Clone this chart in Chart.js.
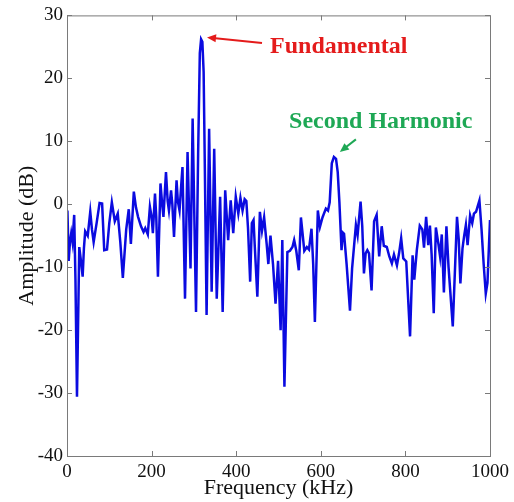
<!DOCTYPE html>
<html>
<head>
<meta charset="utf-8">
<script src="https://cdn.jsdelivr.net/npm/chart.js@4.4.1/dist/chart.umd.min.js"></script>
<style>
html, body { margin: 0; padding: 0; background: #fff; }
</style>
</head>
<body>
<canvas id="grafico" width="514" height="502"></canvas>
<script>
// spectrum
const freqKHz = [
    1, 4, 7, 10, 13, 17, 20, 23.6, 26, 29, 33, 37, 40, 43, 49, 55, 59, 63, 70, 77,
    83, 88, 94.6, 100, 106, 113, 120, 126, 132, 140, 146, 151, 158, 163, 168, 175, 181, 185, 191, 196,
    200, 203, 208, 211, 215, 221, 225, 228, 234, 238, 241, 246, 249, 253, 259, 262, 266, 270, 273, 279,
    285, 292, 297, 305, 310, 314, 317, 320, 323, 326, 330, 336, 342, 348, 354, 362, 368, 374, 381, 387,
    393, 399, 405, 410, 415, 420, 424, 428, 433, 437, 441, 444, 450, 456, 461, 466, 472, 476, 481, 487,
    493, 499, 505, 509, 514, 521, 527, 533, 537, 542, 548, 553, 557, 561, 567, 572, 578, 582, 586, 593,
    598, 604, 612, 617, 621, 626, 631, 636, 640, 644, 649, 652, 655, 661, 669, 674, 683, 687, 694, 698,
    702, 706, 710, 714, 720, 726, 732, 738, 744, 749, 756, 762, 768, 773, 780, 785, 790, 795, 802, 811,
    817, 821, 827, 834, 840, 844, 849, 854, 858, 862, 867, 872, 878, 882, 886, 891, 897, 902, 912, 918,
    922, 926, 930, 935, 939, 943, 947, 953, 958, 962, 967, 975, 980, 985, 990, 994, 1000
];
const ampDB = [
    -1, -9, -6, -4.6, -6, -1.7, -12, -30.6, -20, -6.8, -9, -11.5, -7, -4.3, -5, -1.2, -4, -6, -3, 0.2,
    0.1, -7.3, -7.2, -3, 0.3, -2.7, -1.5, -6, -11.7, -4, -0.8, -6.3, 2, -0.5, -2, -3.5, -4.4, -3.8, -4.8, -0.4,
    -2, -4.6, 1.7, -2, -11.5, 3.3, 0, -2, 5.1, 0.5, -1, 2.2, 0, -5.2, 3.8, 0.5, -1, 3, 5.9, -15,
    8.3, -10.2, 13.6, -17.1, 8, 24, 26.2, 25.8, 21, 5, -17.6, 12, -13.9, 8.8, -15, 1.2, -17.1, 2.2, -5.7, 0.6,
    -4.6, 1.2, -1.5, 1, -1, 0.8, 0.5, -3.9, -12.3, -3, -2.5, -6.8, -14.7, -1.2, -4.2, -2.1, -6.3, -9.5, -5, -9.5,
    -15.8, -9, -20, -5.7, -29, -7.6, -7.4, -6.8, -5.7, -7.4, -10.5, -2.1, -4.7, -7.4, -6.8, -7.2, -3.9, -9.5, -18.7, -1,
    -3.6, -2.1, -0.7, -1, 0.3, 6.5, 7.5, 7.2, 5.1, 0.3, -7.3, -4.5, -4.7, -9.5, -16.9, -10.2, -3.3, -4.9, 0.4, -3.5,
    -11, -7.8, -7.3, -7.8, -13.7, -2.7, -1.7, -8.3, -3.5, -6.6, -6.8, -8.3, -9.4, -8, -9.7, -7.8, -5.4, -8.6, -9.1, -21,
    -8.1, -12, -7.3, -3.4, -4, -6.9, -2, -6.5, -3.4, -8, -17.3, -3.7, -6.3, -8.3, -4.8, -14, -3.5, -10, -19.4, -9,
    -2, -5.5, -12.6, -7, -5, -3.3, -6.5, -1.8, -3, -1.5, -1.2, 0.6, -4, -9.5, -14.2, -12.5, -2.5
];
const xTicks = [0, 200, 400, 600, 800, 1000];
const yTicks = [-40, -30, -20, -10, 0, 10, 20, 30];

const serif = '"Liberation Serif", "DejaVu Serif", serif';

// labels with arrows, placed in data units
const notes = [
    { text: 'Fundamental', color: '#e41b1b', at: [480, 24], tail: [461, 25.6], head: [331, 26.5] },
    { text: 'Second Harmonic', color: '#1ea855', at: [525, 12.1], tail: [683, 10.3], head: [645, 8.3] }
];

const frame = {
    id: 'frame',
    afterDatasetsDraw(chart) {
        const { ctx, chartArea: a, scales: { x, y } } = chart;
        ctx.save();
        ctx.strokeStyle = '#7a7a7a';
        ctx.lineWidth = 1;
        ctx.strokeRect(a.left + 0.5, a.top + 0.5, a.right - a.left, a.bottom - a.top);
        ctx.beginPath();
        xTicks.forEach(v => {
            const px = Math.round(x.getPixelForValue(v)) + 0.5;
            ctx.moveTo(px, a.bottom); ctx.lineTo(px, a.bottom - 5);
            ctx.moveTo(px, a.top); ctx.lineTo(px, a.top + 5);
        });
        yTicks.forEach(v => {
            const py = Math.round(y.getPixelForValue(v)) + 0.5;
            ctx.moveTo(a.left, py); ctx.lineTo(a.left + 5, py);
            ctx.moveTo(a.right, py); ctx.lineTo(a.right - 5, py);
        });
        ctx.stroke();

        notes.forEach(n => {
            const tx = x.getPixelForValue(n.tail[0]), ty = y.getPixelForValue(n.tail[1]);
            const hx = x.getPixelForValue(n.head[0]), hy = y.getPixelForValue(n.head[1]);
            const ang = Math.atan2(hy - ty, hx - tx);
            ctx.strokeStyle = n.color;
            ctx.fillStyle = n.color;
            ctx.lineWidth = 2;
            ctx.beginPath();
            ctx.moveTo(tx, ty);
            ctx.lineTo(hx - 6 * Math.cos(ang), hy - 6 * Math.sin(ang));
            ctx.stroke();
            ctx.beginPath();
            ctx.moveTo(hx, hy);
            ctx.lineTo(hx - 9 * Math.cos(ang) + 4 * Math.sin(ang), hy - 9 * Math.sin(ang) - 4 * Math.cos(ang));
            ctx.lineTo(hx - 9 * Math.cos(ang) - 4 * Math.sin(ang), hy - 9 * Math.sin(ang) + 4 * Math.cos(ang));
            ctx.closePath();
            ctx.fill();
            ctx.font = 'bold 24px ' + serif;
            ctx.textBaseline = 'alphabetic';
            ctx.textAlign = 'left';
            ctx.fillText(n.text, x.getPixelForValue(n.at[0]), y.getPixelForValue(n.at[1]));
        });
        ctx.restore();
    }
};

const ctx = document.getElementById('grafico').getContext('2d');
const myChart = new Chart(ctx, {
    type: 'line',
    data: {
        datasets: [{
            data: freqKHz.map((f, i) => ({ x: f, y: ampDB[i] })),
            borderColor: '#0b0be0',
            borderWidth: 2.5,
            pointRadius: 0,
            tension: 0,
            fill: false
        }]
    },
    options: {
        responsive: false,
        animation: false,
        devicePixelRatio: 1,
        layout: { padding: { top: 15, right: 24, left: 0, bottom: 0 } },
        plugins: { legend: { display: false }, tooltip: { enabled: false } },
        scales: {
            x: {
                type: 'linear',
                min: 0, max: 1000,
                afterFit: s => { s.height = 46; },
                afterBuildTicks: s => { s.ticks = xTicks.map(v => ({ value: v })); },
                grid: { display: false, drawTicks: false },
                border: { display: false },
                ticks: { padding: 5, color: '#111', font: { family: serif, size: 19 }, maxRotation: 0, callback: v => String(v) },
                title: { display: true, text: 'Frequency (kHz)', color: '#111', font: { family: serif, size: 22 }, padding: { top: 0, bottom: 1 } }
            },
            y: {
                min: -40, max: 30,
                afterFit: s => { s.width = 67; },
                afterBuildTicks: s => { s.ticks = yTicks.map(v => ({ value: v })); },
                grid: { display: false, drawTicks: false },
                border: { display: false },
                ticks: { padding: 4, color: '#111', font: { family: serif, size: 19 }, callback: v => String(v) },
                title: { display: true, text: 'Amplitude (dB)', color: '#111', font: { family: serif, size: 22 }, padding: { top: 14, bottom: 0 } }
            }
        }
    },
    plugins: [frame]
});
</script>
</body>
</html>
